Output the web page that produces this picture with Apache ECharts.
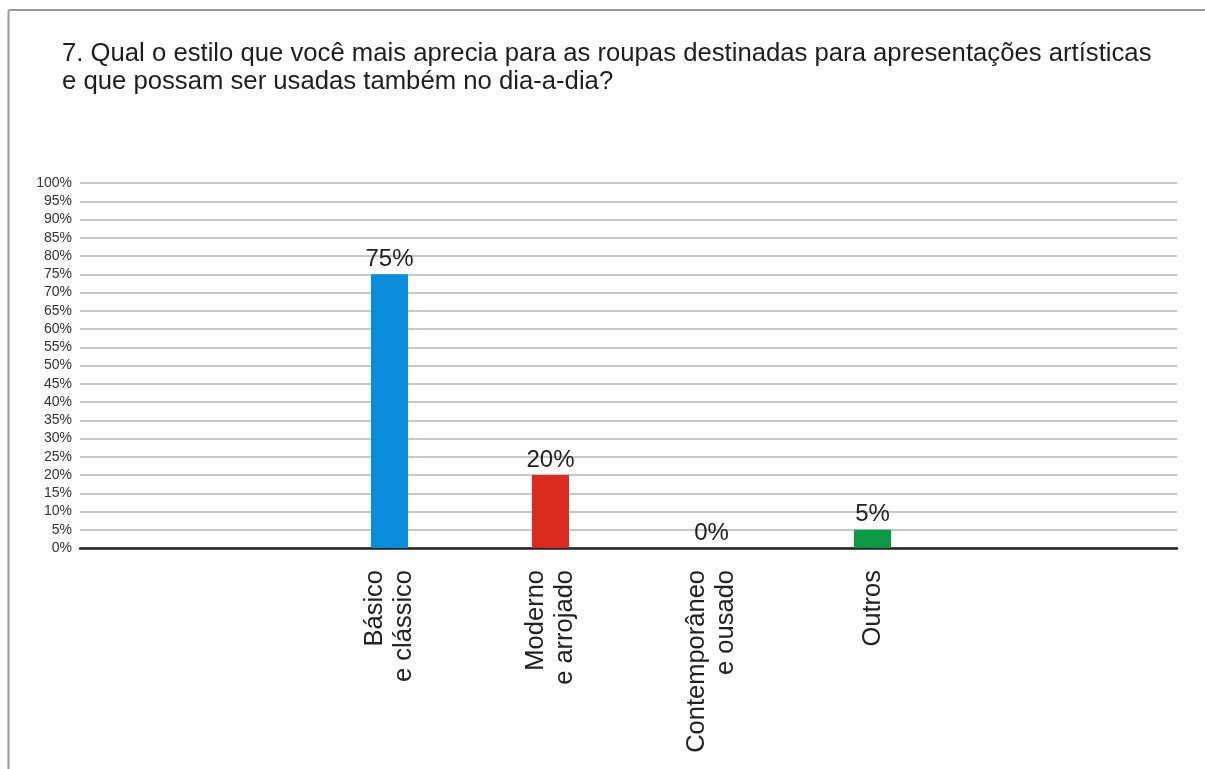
<!DOCTYPE html>
<html>
<head>
<meta charset="utf-8">
<script src="https://cdn.jsdelivr.net/npm/echarts@6/dist/echarts.min.js"></script>
<style>
  html, body { margin: 0; padding: 0; background: #fff; }
  #chart { width: 1205px; height: 769px; }
</style>
</head>
<body>
<div id="chart"></div>
<script>
// Survey question 7: preferred style for stage clothing also worn day to day
const titleText = '7. Qual o estilo que você mais aprecia para as roupas destinadas para apresentações artísticas\ne que possam ser usadas também no dia-a-dia?';
const categories = ['Básico\ne clássico', 'Moderno\ne arrojado', 'Contemporâneo\ne ousado', 'Outros'];
const percentages = [75, 20, 0, 5];
const barColors = ['#0a8ddb', '#dc2a1f', '#0b9a43', '#0b9a43'];

const FONT = '"Liberation Sans", Arial, sans-serif';

const chart = echarts.init(document.getElementById('chart'), null, { renderer: 'canvas' });

chart.setOption({
  backgroundColor: '#ffffff',
  animation: false,
  title: {
    text: titleText,
    left: 57,
    top: 35,
    textStyle: { fontFamily: FONT, fontSize: 25.7, fontWeight: 'normal', color: '#1e1e1e', lineHeight: 28 }
  },
  graphic: [
    { type: 'line', shape: { x1: 8.5, y1: 10, x2: 1205, y2: 10 }, style: { stroke: '#9a9a9a', lineWidth: 2 } },
    { type: 'line', shape: { x1: 8.5, y1: 10, x2: 8.5, y2: 769 }, style: { stroke: '#9a9a9a', lineWidth: 2 } }
  ],
  grid: [
    // full-width plot area carrying the percentage scale and gridlines
    { left: 80, right: 28, top: 183, bottom: 221 },
    // narrower band in which the four bars are laid out
    { left: 309, width: 644, top: 183, bottom: 221 }
  ],
  xAxis: [
    {
      gridIndex: 0, type: 'value', min: 0, max: 1,
      axisLine: { show: true, lineStyle: { color: '#222', width: 2.5 } },
      axisTick: { show: false }, axisLabel: { show: false }, splitLine: { show: false }
    },
    {
      gridIndex: 1, type: 'category', data: categories,
      axisLine: { show: false }, axisTick: { show: false },
      axisLabel: {
        rotate: 90, margin: 22, interval: 0,
        fontFamily: FONT, fontSize: 25.5, color: '#222', lineHeight: 29
      }
    }
  ],
  yAxis: [
    {
      gridIndex: 0, type: 'value', min: 0, max: 100, interval: 5,
      axisLine: { show: false }, axisTick: { show: false },
      axisLabel: { formatter: '{value}%', fontFamily: FONT, fontSize: 14, color: '#333', margin: 8 },
      splitLine: { show: true, lineStyle: { color: '#b4b4b4', width: 1.5 } }
    },
    {
      gridIndex: 1, type: 'value', min: 0, max: 100, show: false,
      splitLine: { show: false }
    }
  ],
  series: [{
    type: 'bar',
    xAxisIndex: 1,
    yAxisIndex: 1,
    barWidth: 37,
    z: 1,
    data: percentages.map((v, i) => ({ value: v, itemStyle: { color: barColors[i] } })),
    label: {
      show: true, position: 'top', distance: 3,
      formatter: '{c}%',
      fontFamily: FONT, fontSize: 24, color: '#222'
    }
  }]
});
</script>
</body>
</html>
